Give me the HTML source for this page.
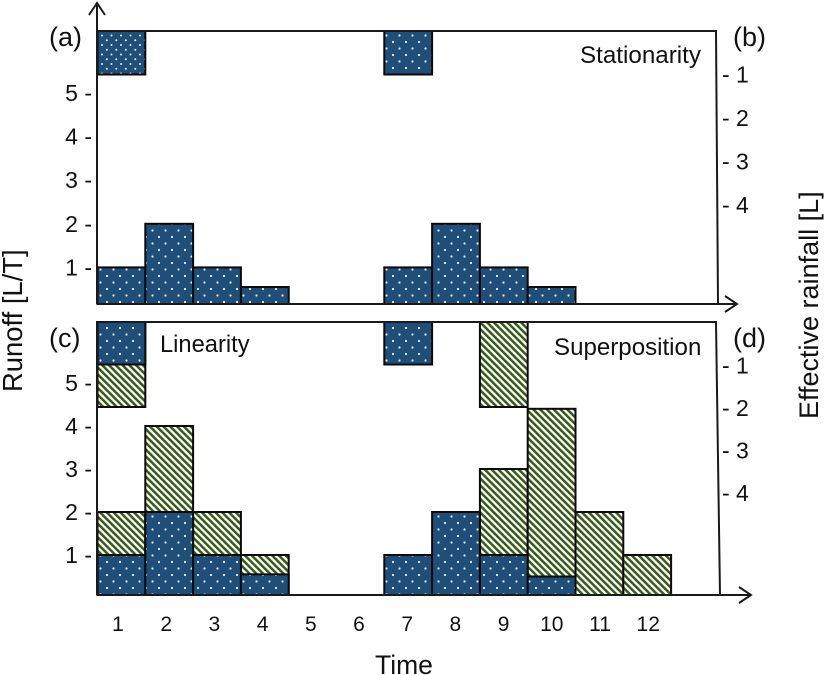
<!DOCTYPE html>
<html>
<head>
<meta charset="utf-8">
<style>
html,body{margin:0;padding:0;background:#fff;}
svg{display:block;}
text{font-family:"Liberation Sans",sans-serif;fill:#111;}
</style>
</head>
<body>
<svg id="chart" width="824" height="675" viewBox="0 0 824 675" xmlns="http://www.w3.org/2000/svg">
<defs>
<pattern id="dots" width="13" height="13" patternUnits="userSpaceOnUse">
<rect width="13" height="13" fill="#1f4e79"/>
<circle cx="3" cy="3" r="1.1" fill="#e8f0f6"/>
<circle cx="9.5" cy="9.5" r="1.1" fill="#e8f0f6"/>
</pattern>
<pattern id="dense-dots" width="9.5" height="9.5" patternUnits="userSpaceOnUse">
<rect width="9.5" height="9.5" fill="#1f4e79"/>
<circle cx="2.3" cy="2.3" r="1" fill="#e8f0f6"/>
<circle cx="7" cy="7" r="1" fill="#e8f0f6"/>
</pattern>
<pattern id="hatch" width="4.8" height="4.8" patternUnits="userSpaceOnUse" patternTransform="rotate(-45)">
<rect width="4.8" height="4.8" fill="#fbfcf8"/>
<rect width="2.5" height="4.8" fill="#38591c"/>
</pattern>
</defs>
<g id="marks"></g>
<g id="axes"></g>
<g id="labels"></g>
</svg>
<script>
// Values
const timeLabels = ['1','2','3','4','5','6','7','8','9','10','11','12'];
const runoffTicks = [1,2,3,4,5];
const rainTicks = [1,2,3,4];

const topRain = [1,0,0,0,0,0,1,0,0,0,0,0];
const topRunoff = [1,2,1,0.55,0,0,1,2,1,0.55,0,0];

const bottomRainBlue = [1,0,0,0,0,0,1,0,0,0,0,0];
const bottomRainGreenTotal = [2,0,0,0,0,0,0,0,2,0,0,0];
const bottomRunoffBlue = [1,2,1,0.55,0,0,1,2,1,0.5,0,0];
const bottomRunoffGreenTotal = [2,4,2,1,0,0,0,0,3,4.4,2,1];

const svg = document.getElementById('chart');
const marks = document.getElementById('marks');
const axes = document.getElementById('axes');
const labels = document.getElementById('labels');
const NS = 'http://www.w3.org/2000/svg';

// Axis functions
function xEdge(i){ return 97.5 + 47.8 * i; }
function timeTickX(i){ return 118 + 48.2 * i; }
function topRunoffY(v){ return 311 - 43.6 * v; }
function bottomRunoffY(v){ return 598 - 43 * v; }
function topRainY(v){ return 31 + 43.5 * v; }
function bottomRainY(v){ return 322 + 42.5 * v; }
const TOP_BASE = 304, BOTTOM_BASE = 595;

function drawRect(i, y1, y2, fill){
  const r = document.createElementNS(NS,'rect');
  r.setAttribute('x', xEdge(i));
  r.setAttribute('y', y1);
  r.setAttribute('width', xEdge(i+1) - xEdge(i));
  r.setAttribute('height', y2 - y1);
  r.setAttribute('fill', fill);
  r.setAttribute('stroke', '#0a0a0a');
  r.setAttribute('stroke-width', '2');
  marks.appendChild(r);
  return r;
}
function drawText(str, x, y, size, anchor){
  const t = document.createElementNS(NS,'text');
  t.textContent = str;
  t.setAttribute('x', x);
  t.setAttribute('y', y);
  t.setAttribute('font-size', size);
  t.setAttribute('text-anchor', anchor || 'middle');
  labels.appendChild(t);
  return t;
}
function drawPath(d, width){
  const p = document.createElementNS(NS,'path');
  p.setAttribute('d', d);
  p.setAttribute('fill', 'none');
  p.setAttribute('stroke', '#1a1a1a');
  p.setAttribute('stroke-width', width || 2);
  axes.appendChild(p);
  return p;
}

// Top panel marks
topRain.forEach(function(v,i){
  if (!v) return;
  const r = drawRect(i, topRainY(0), topRainY(v), i === 0 ? 'url(#dense-dots)' : 'url(#dots)');
  
  
});
topRunoff.forEach(function(v,i){
  if (!v) return;
  const r = drawRect(i, topRunoffY(v), TOP_BASE, 'url(#dots)');
  
  
});

// Bottom panel marks
bottomRainGreenTotal.forEach(function(v,i){
  if (!v) return;
  const r = drawRect(i, bottomRainY(0), bottomRainY(v), 'url(#hatch)');
  
  
});
bottomRainBlue.forEach(function(v,i){
  if (!v) return;
  const r = drawRect(i, bottomRainY(0), bottomRainY(v), 'url(#dots)');
  
  
});
bottomRunoffGreenTotal.forEach(function(v,i){
  if (!v) return;
  const r = drawRect(i, bottomRunoffY(v), BOTTOM_BASE, 'url(#hatch)');
  
  
});
bottomRunoffBlue.forEach(function(v,i){
  if (!v) return;
  const r = drawRect(i, bottomRunoffY(v), BOTTOM_BASE, 'url(#dots)');
  
  
});

// Axis lines
const topFrame = drawPath('M97 304V3M89 15L97 3L105 15M97 31H716L718 304M97 304H737M725 296L737 304L725 312');


const bottomFrame = drawPath('M97 595V322H716L720 595M97 595H751M739 587L751 595L739 603');



// Left tick labels
runoffTicks.forEach(function(v){
  const a = drawText(v + ' -', 92, topRunoffY(v) + 8, 23, 'end');
  
  
  const b = drawText(v + ' -', 92, bottomRunoffY(v) + 8, 23, 'end');
  
  
});
// Right tick labels
rainTicks.forEach(function(v){
  const a = drawText('- ' + v, 722, topRainY(v) + 8, 23, 'start');
  
  
  const b = drawText('- ' + v, 722, bottomRainY(v) + 9, 23, 'start');
  
  
});
// Time tick labels
timeLabels.forEach(function(s,i){
  const t = drawText(s, timeTickX(i), 631, 21);
  
  
});
</script>
<svg style="position:absolute;left:0;top:0" width="824" height="675" viewBox="0 0 824 675" xmlns="http://www.w3.org/2000/svg">
<text x="49" y="46" font-size="27">(a)</text>
<text x="733" y="46" font-size="27">(b)</text>
<text x="49" y="347" font-size="27">(c)</text>
<text x="733" y="347" font-size="27">(d)</text>
<text x="580" y="63" font-size="24.2">Stationarity</text>
<text x="160" y="352" font-size="23.7">Linearity</text>
<text x="554" y="355" font-size="24.1">Superposition</text>
<text x="22" y="392" font-size="27.4" transform="rotate(-90 22 392)">Runoff [L/T]</text>
<text x="818" y="419" font-size="27" transform="rotate(-90 818 419)">Effective rainfall [L]</text>
<text x="375" y="674" font-size="26.5">Time</text>
</svg>
</body>
</html>
